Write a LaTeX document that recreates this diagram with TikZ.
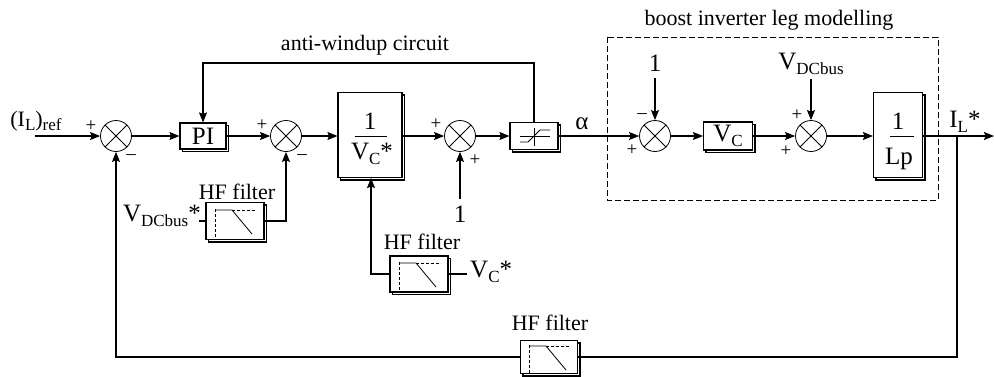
\documentclass[tikz,border=0pt]{standalone}
\usepackage{fontspec}
\setmainfont{Liberation Serif}
\usetikzlibrary{arrows.meta,shadows}
\newcommand\mainfs{\fontsize{22}{26}\selectfont}
\newcommand\bigfs{\fontsize{25}{29}\selectfont}
\newcommand\signfs{\fontsize{19}{19}\selectfont}
\newcommand\lsub[1]{\raisebox{-0.45ex}{\fontsize{17}{18}\selectfont #1}}
\tikzset{
  wire/.style={line width=1.1pt},
  arr/.style={wire,-{Stealth[length=10pt,width=8pt,inset=1.5pt]}},
  blk/.style={draw,fill=white,line width=1.1pt,inner sep=0pt,
    copy shadow={shadow xshift=2.5pt,shadow yshift=-2.5pt}},
  sumj/.style={draw,circle,line width=0.8pt,minimum size=31pt,inner sep=0pt},
  lbl/.style={font=\mainfs,inner sep=0pt},
  blbl/.style={font=\bigfs,inner sep=0pt},
  sgn/.style={font=\signfs,inner sep=0pt},
  symb/.style={line width=0.8pt},
  dsymb/.style={line width=0.8pt,dash pattern=on 3pt off 2pt},
  boxdash/.style={line width=1pt,dash pattern=on 6pt off 3pt}
}
\newcommand\filtersym[1]{%
  \begin{scope}[shift={(#1.center)}]
    \draw[dsymb] (-20,-12) -- (-20,16);
    \draw[symb] (-20,-11) -- (-3,-11) -- (17,13);
    \draw[dsymb] (-3,-11) -- (22,-11);
  \end{scope}}
\begin{document}
\begin{tikzpicture}[x=1pt,y=-1pt]
\useasboundingbox (0,0) rectangle (994,376);

% summing junctions
\node[sumj] (s1) at (116,136) {};
\node[sumj] (s2) at (286,136) {};
\node[sumj] (s3) at (460,136) {};
\node[sumj] (s4) at (655,136) {};
\node[sumj] (s5) at (811,136) {};
\foreach \s in {s1,s2,s3,s4,s5}{
  \draw[line width=0.8pt] (\s.45) -- (\s.225) (\s.135) -- (\s.315);
}

% blocks
\node[blk,minimum width=46pt,minimum height=26pt,font=\bigfs] (pi) at (203,136) {PI};
\node[blk,minimum width=64pt,minimum height=85pt] (vcs) at (370,135) {};
\node[blk,minimum width=48pt,minimum height=27pt] (sat) at (534,136) {};
\node[blk,minimum width=49pt,minimum height=28pt,font=\bigfs] (vc) at (728,136) {V\lsub{C}};
\node[blk,minimum width=49pt,minimum height=85pt] (lp) at (898,135) {};
\node[blk,minimum width=58pt,minimum height=37pt] (f1) at (235,221) {};
\node[blk,minimum width=58pt,minimum height=36pt] (f2) at (419,274) {};
\node[blk,minimum width=57pt,minimum height=33pt] (f3) at (549,357) {};

% fractions inside blocks
\node[blbl] (vcsnum) at (370,121) {1};
\draw[symb] (355,136) -- (387,136);
\node[blbl] (vcsden) at (372,154) {V\lsub{C}*};
\node[blbl] (lpnum) at (898,121) {1};
\draw[symb] (890,136) -- (914,136);
\node[blbl] (lpden) at (899,159) {Lp};

% saturation symbol
\begin{scope}[shift={(sat.center)}]
  \draw[symb] (-14,0) -- (16,0);
  \draw[symb] (0,-8) -- (0,10);
  \draw[symb] (-14,6) -- (-6,6) -- (6,-6) -- (16,-6);
\end{scope}

% filter symbols
\filtersym{f1}
\filtersym{f2}
\filtersym{f3}

% labels
\node[lbl] (ilref) at (36,121) {(I\lsub{L})\lsub{ref}};
\node[lbl] (aw) at (365,45) {anti-windup circuit};
\node[lbl] (biv) at (769,20) {boost inverter leg modelling};
\node[lbl] (hf1) at (237,192) {HF filter};
\node[lbl] (hf2) at (422,242) {HF filter};
\node[lbl] (hf3) at (550,323) {HF filter};
\node[blbl] (alpha) at (582,124) {α};
\node[blbl] (ilstar) at (965,122) {I\lsub{L}*};
\node[blbl] (one3) at (460,214) {1};
\node[blbl] (one4) at (655,63) {1};
\node[blbl] (vdc) at (811,64) {V\lsub{DCbus}};
\node[blbl,anchor=east] (vdcs) at (201,216) {V\lsub{DCbus}*};
\node[blbl,anchor=west] (vcstar) at (470,272) {V\lsub{C}*};

% signs
\node[sgn] at (91,126) {+};
\node[sgn] at (131,157) {--};
\node[sgn] at (262,125) {+};
\node[sgn] at (302,157) {--};
\node[sgn] at (436,124) {+};
\node[sgn] at (475,160) {+};
\node[sgn] at (642,116) {--};
\node[sgn] at (632,150) {+};
\node[sgn] at (797,115) {+};
\node[sgn] at (786,151) {+};

% coordinates
\coordinate (in) at (35,136);
\coordinate (awl) at (203,63);
\coordinate (awr) at (534,63);
\coordinate (c3) at (460,199);
\coordinate (c4) at (655,78);
\coordinate (c5) at (811,79);
\coordinate (br) at (957,136);
\coordinate (out) at (994,136);
\coordinate (bbr) at (957,357);
\coordinate (bbl) at (116,357);
\coordinate (f1c) at (286,221);
\coordinate (f2c) at (371,274);
\coordinate (vdcin) at (199,221);
\coordinate (vcin) at (467,274);

% main path
\draw[arr] (in) -- (s1);
\draw[arr] (s1) -- (pi);
\draw[arr] (pi) -- (s2);
\draw[arr] (s2) -- (vcs.west |- s2);
\draw[arr] (vcs.east |- s3) -- (s3);
\draw[arr] (s3) -- (sat);
\draw[arr] (sat) -- (s4);
\draw[arr] (s4) -- (vc);
\draw[arr] (vc) -- (s5);
\draw[arr] (s5) -- (lp.west |- s5);
\draw[arr] (lp.east |- s5) -- (out);

% anti-windup loop
\draw[arr] (sat.north) -- (awr) -- (awl) -- (pi.north);

% side inputs
\draw[arr] (c3) -- (s3);
\draw[arr] (c4) -- (s4);
\draw[arr] (c5) -- (s5);

% filters
\draw[wire] (vdcin) -- (f1.west);
\draw[arr] (f1.east) -- (f1c) -- (s2);
\draw[wire] (f2.east) -- (vcin);
\draw[arr] (f2.west) -- (f2c) -- (f2c |- vcs.south);

% output feedback
\draw[wire] (br) -- (bbr) -- (f3.east);
\draw[arr] (f3.west) -- (bbl) -- (s1);

% dashed box
\draw[boxdash] (607,37) rectangle (938,200);
\end{tikzpicture}
\end{document}
